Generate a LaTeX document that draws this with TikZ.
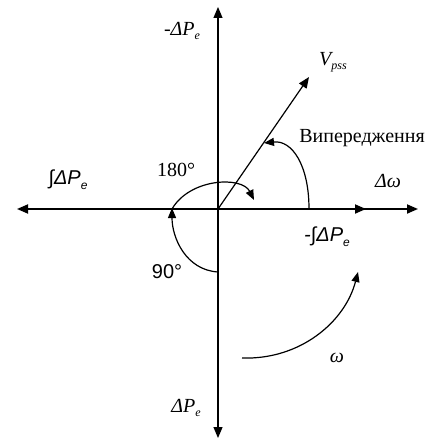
\documentclass[tikz,border=0pt]{standalone}
\usepackage{fontspec}
\setmainfont{Liberation Serif}
\newfontfamily\sansf{Liberation Sans}
\usetikzlibrary{arrows.meta}
\newcommand\lowsub[1]{\raisebox{-0.45ex}{\fontsize{12}{13}\selectfont #1}}
\begin{document}
\begin{tikzpicture}[x=1pt,y=-1pt,
  hax/.style={line width=1.8pt},
  vax/.style={line width=1.2pt},
  bigtip/.style={-{Triangle[length=11pt,width=9pt]}},
  arcline/.style={line width=1.2pt,-{Triangle[length=10pt,width=8pt]}},
  lbl/.style={inner sep=0pt,font=\fontsize{20}{22}\selectfont}]
\useasboundingbox (0,0) rectangle (425,441);
% axis points
\coordinate (O) at (218,209);
\coordinate (L) at (17,209);
\coordinate (R) at (418,209);
\coordinate (M) at (366,209);
\coordinate (T) at (218,7);
\coordinate (B) at (218,438);
\coordinate (V) at (309,77);
% axes
\draw[hax,{Triangle[length=11pt,width=9pt]}-{Triangle[length=11pt,width=9pt]}] (L) -- (R);
\draw[hax,bigtip] (O) -- (M);
\draw[vax,bigtip] (O) -- (T);
\draw[vax,bigtip] (O) -- (B);
\draw[vax,bigtip] (O) -- (V);
% arcs
\coordinate (aS) at (309,209);
\coordinate (aE) at (264,143);
\draw[arcline] (aS) .. controls (309,165) and (292,140) .. (aE);
\coordinate (bS) at (172,209);
\coordinate (bE) at (254,200);
\draw[arcline] (bS) .. controls (190,178) and (242,176) .. (bE);
\coordinate (cS) at (218,272);
\coordinate (cE) at (172,208);
\draw[arcline] (cS) .. controls (186,270) and (172,238) .. (cE);
\coordinate (dS) at (242,358);
\coordinate (dE) at (358,272);
\draw[arcline] (dS) .. controls (300,360) and (345,322) .. (dE);
% labels
\node[lbl] (nPe1) at (182,31) {\itshape -ΔP\lowsub{e}};
\node[lbl] (nV) at (333,62) {\itshape V\lowsub{pss}};
\node[lbl] (nLead) at (362,138) {Випередження};
\node[lbl] (nInt) at (68,180) {\sansf\itshape ∫ΔP\lowsub{e}};
\node[lbl] (n180) at (176,170) {180°};
\node[lbl] (nDw) at (388,181) {\itshape Δω};
\node[lbl] (nIntm) at (327,237) {\sansf\itshape -∫ΔP\lowsub{e}};
\node[lbl] (n90) at (167,272) {\sansf 90°};
\node[lbl] (nw) at (337,358) {\itshape ω};
\node[lbl] (nPe2) at (186,408) {\itshape ΔP\lowsub{e}};
\end{tikzpicture}
\end{document}
